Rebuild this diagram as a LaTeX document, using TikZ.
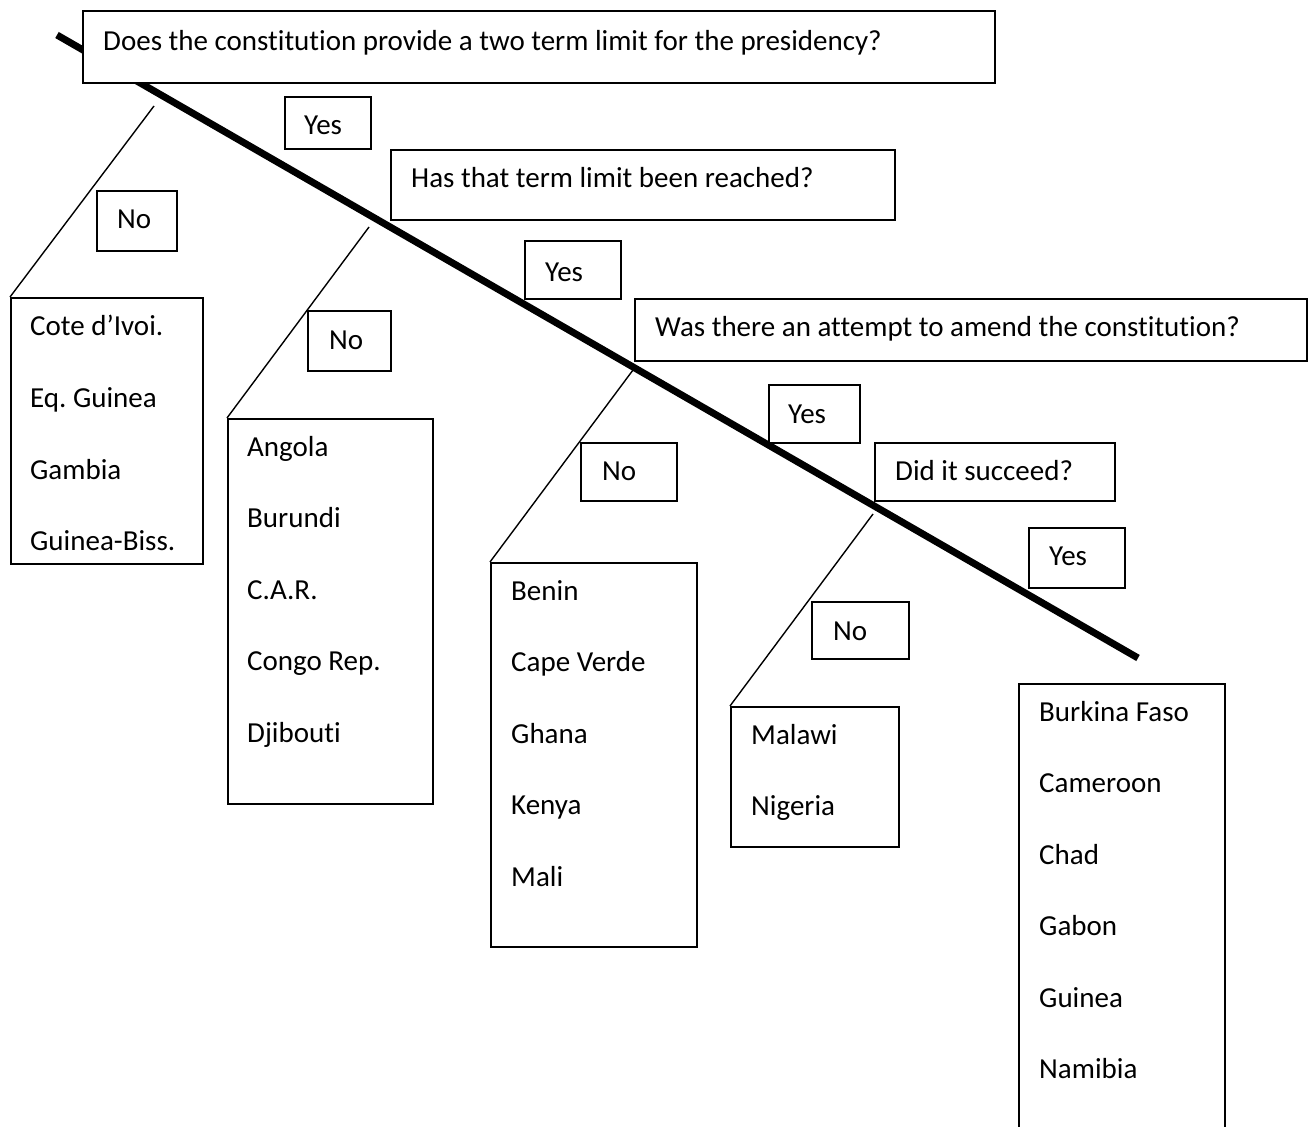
\documentclass[tikz,border=0pt]{standalone}
\usepackage{fontspec}
\setmainfont{Carlito}[Ligatures={NoCommon,NoContextual}]
\frenchspacing
\begin{document}
\begin{tikzpicture}[x=1pt,y=-1pt,
  box/.style={draw=black, line width=1.6pt, fill=white, rectangle, inner sep=0pt, anchor=north west},
  txt/.style={inner sep=0pt, anchor=base west, font=\fontsize{29}{35}\selectfont},
  stem/.style={line width=7pt},
  branch/.style={line width=1.4pt}]
\useasboundingbox (0,0) rectangle (1312,1127);
\clip (0,0) rectangle (1312,1127);
% main stem
\coordinate (s0) at (57,35);
\coordinate (s1) at (1138,658);
\draw[stem] (s0) -- (s1);
% branch start points
\coordinate (b1) at (154,106);
\coordinate (b2) at (369,227);
\coordinate (b3) at (633,370);
\coordinate (b4) at (873,514);
% question boxes
\node[box, minimum width=912pt, minimum height=72pt] (q1) at (82,10) {};
\node[txt] (q1t) at (103,50) {Does the constitution provide a two term limit for the presidency?};
\node[box, minimum width=504pt, minimum height=70pt] (q2) at (390,149) {};
\node[txt] (q2t) at (411,187) {Has that term limit been reached?};
\node[box, minimum width=672pt, minimum height=62pt] (q3) at (634,298) {};
\node[txt] (q3t) at (655,336) {Was there an attempt to amend the constitution?};
\node[box, minimum width=240pt, minimum height=58pt] (q4) at (874,442) {};
\node[txt] (q4t) at (895,480) {Did it succeed?};
% yes boxes
\node[box, minimum width=86pt, minimum height=52pt] (y1) at (284,96) {};
\node[txt] (y1t) at (304,134) {Yes};
\node[box, minimum width=96pt, minimum height=58pt] (y2) at (524,240) {};
\node[txt] (y2t) at (545,281) {Yes};
\node[box, minimum width=91pt, minimum height=58pt] (y3) at (768,384) {};
\node[txt] (y3t) at (788,423) {Yes};
\node[box, minimum width=96pt, minimum height=60pt] (y4) at (1028,527) {};
\node[txt] (y4t) at (1049,565) {Yes};
% no boxes
\node[box, minimum width=80pt, minimum height=60pt] (n1) at (96,190) {};
\node[txt] (n1t) at (117,228) {No};
\node[box, minimum width=83pt, minimum height=60pt] (n2) at (307,310) {};
\node[txt] (n2t) at (329,349) {No};
\node[box, minimum width=96pt, minimum height=58pt] (n3) at (580,442) {};
\node[txt] (n3t) at (602,480) {No};
\node[box, minimum width=97pt, minimum height=57pt] (n4) at (811,601) {};
\node[txt] (n4t) at (833,640) {No};
% list boxes
\node[box, minimum width=192pt, minimum height=266pt] (l1) at (10,297) {};
\node[txt] (l1a) at (30,335) {Cote d’Ivoi.};
\node[txt] (l1b) at (30,407) {Eq. Guinea};
\node[txt] (l1c) at (30,479) {Gambia};
\node[txt] (l1d) at (30,550) {Guinea-Biss.};
\node[box, minimum width=205pt, minimum height=385pt] (l2) at (227,418) {};
\node[txt] (l2a) at (247,456) {Angola};
\node[txt] (l2b) at (247,527) {Burundi};
\node[txt] (l2c) at (247,599) {C.A.R.};
\node[txt] (l2d) at (247,670) {Congo Rep.};
\node[txt] (l2e) at (247,742) {Djibouti};
\node[box, minimum width=206pt, minimum height=384pt] (l3) at (490,562) {};
\node[txt] (l3a) at (511,600) {Benin};
\node[txt] (l3b) at (511,671) {Cape Verde};
\node[txt] (l3c) at (511,743) {Ghana};
\node[txt] (l3d) at (511,814) {Kenya};
\node[txt] (l3e) at (511,886) {Mali};
\node[box, minimum width=168pt, minimum height=140pt] (l4) at (730,706) {};
\node[txt] (l4a) at (751,744) {Malawi};
\node[txt] (l4b) at (751,815) {Nigeria};
\node[box, minimum width=206pt, minimum height=520pt] (l5) at (1018,683) {};
\node[txt] (l5a) at (1039,721) {Burkina Faso};
\node[txt] (l5b) at (1039,792) {Cameroon};
\node[txt] (l5c) at (1039,864) {Chad};
\node[txt] (l5d) at (1039,935) {Gabon};
\node[txt] (l5e) at (1039,1007) {Guinea};
\node[txt] (l5f) at (1039,1078) {Namibia};
% branches
\draw[branch] (b1) -- (l1.north west);
\draw[branch] (b2) -- (l2.north west);
\draw[branch] (b3) -- (l3.north west);
\draw[branch] (b4) -- (l4.north west);
\end{tikzpicture}
\end{document}
